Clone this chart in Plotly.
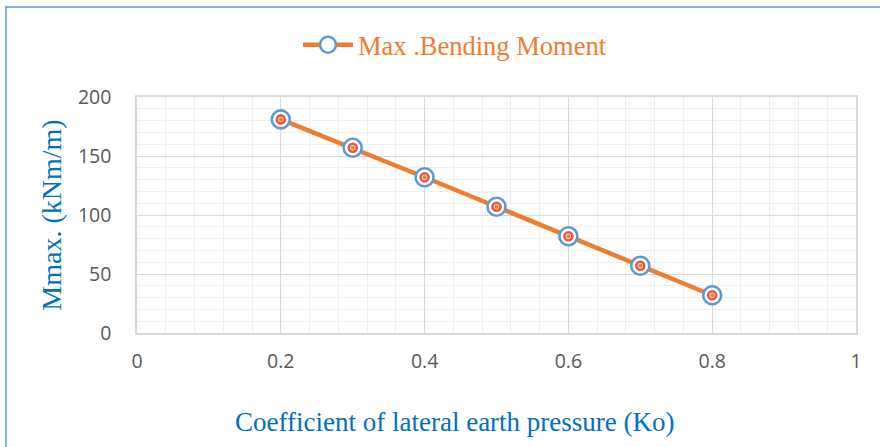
import plotly.graph_objects as go

# Coefficient of lateral earth pressure vs. maximum bending moment
ko_values = [0.2, 0.3, 0.4, 0.5, 0.6, 0.7, 0.8]
max_moment = [181, 157, 132, 107, 82, 57, 32]

series_name = "Max .Bending Moment"
x_title = "Coefficient of lateral earth pressure (Ko)"
y_title = "Mmax. (kNm/m)"

x_ticks = [0, 0.2, 0.4, 0.6, 0.8, 1]
x_tick_text = ["0", "0.2", "0.4", "0.6", "0.8", "1"]
y_ticks = [0, 50, 100, 150, 200]

ORANGE = "#ED7D31"
BLUE = "#5B9BD5"
TITLE_BLUE = "#0070C0"
TICK_GRAY = "#595959"

fig = go.Figure()

# Line with outer ring of the target marker (this is the legend entry)
fig.add_trace(go.Scatter(
    x=ko_values, y=max_moment, name=series_name, mode="lines+markers",
    line=dict(color=ORANGE, width=4.5),
    marker=dict(symbol="circle", size=18, color="white",
                line=dict(color=BLUE, width=2.6)),
))
# Inner ring of the target marker
fig.add_trace(go.Scatter(
    x=ko_values, y=max_moment, mode="markers", showlegend=False,
    hoverinfo="skip",
    marker=dict(symbol="circle-open", size=8,
                line=dict(color=BLUE, width=2.6)),
))
# Centre dot where the line passes through
fig.add_trace(go.Scatter(
    x=ko_values, y=max_moment, mode="markers", showlegend=False,
    hoverinfo="skip",
    marker=dict(symbol="circle", size=4, color=ORANGE),
))

L, R, T, B = 137, 24, 97, 114
W, H = 880, 447
pw, ph = W - L - R, H - T - B

# Outer chart border (blue), drawn in paper coordinates
fig.add_shape(
    type="rect", xref="paper", yref="paper", layer="above",
    x0=(6 - L) / pw, x1=1 + (R + 10) / pw,
    y0=-(B + 10) / ph, y1=1 + (T - 7) / ph,
    line=dict(color=BLUE, width=1.5), fillcolor="rgba(0,0,0,0)",
)

# Horizontal axis title, centred on the chart area
fig.add_annotation(
    text=x_title, xref="paper", yref="paper",
    x=(455 - L) / pw, xanchor="center",
    y=-(422 - (H - B)) / ph, yanchor="middle",
    showarrow=False,
    font=dict(family="Liberation Serif", size=27, color=TITLE_BLUE),
)

fig.update_layout(
    width=W, height=H,
    margin=dict(l=L, r=R, t=T, b=B),
    paper_bgcolor="white", plot_bgcolor="white",
    showlegend=True,
    legend=dict(
        orientation="h", x=(455 - L) / pw, xanchor="center",
        y=1 + (T - 45) / ph, yanchor="middle",
        font=dict(family="Liberation Serif", size=26.5, color=ORANGE),
        itemwidth=50, bgcolor="rgba(0,0,0,0)",
    ),
    xaxis=dict(
        range=[0, 1], tickvals=x_ticks, ticktext=x_tick_text,
        showgrid=True, gridcolor="#D9D9D9", gridwidth=1,
        minor=dict(dtick=0.04, showgrid=True, gridcolor="#EFEFEF", gridwidth=1),
        showline=True, mirror=True, linecolor="#D9D9D9", linewidth=1.5,
        zeroline=False, ticks="", ticklabelstandoff=10,
        tickfont=dict(family="Open Sans", size=19.5, color=TICK_GRAY),
    ),
    yaxis=dict(
        range=[0, 200], tickvals=y_ticks,
        showgrid=True, gridcolor="#D9D9D9", gridwidth=1,
        minor=dict(dtick=10, showgrid=True, gridcolor="#EFEFEF", gridwidth=1),
        showline=True, mirror=True, linecolor="#D9D9D9", linewidth=1.5,
        zeroline=False, ticks="", ticklabelstandoff=20,
        tickfont=dict(family="Open Sans", size=19.5, color=TICK_GRAY),
        title=dict(text=y_title, standoff=8,
                   font=dict(family="Liberation Serif", size=28, color=TITLE_BLUE)),
    ),
)

fig.write_html("out.html")
